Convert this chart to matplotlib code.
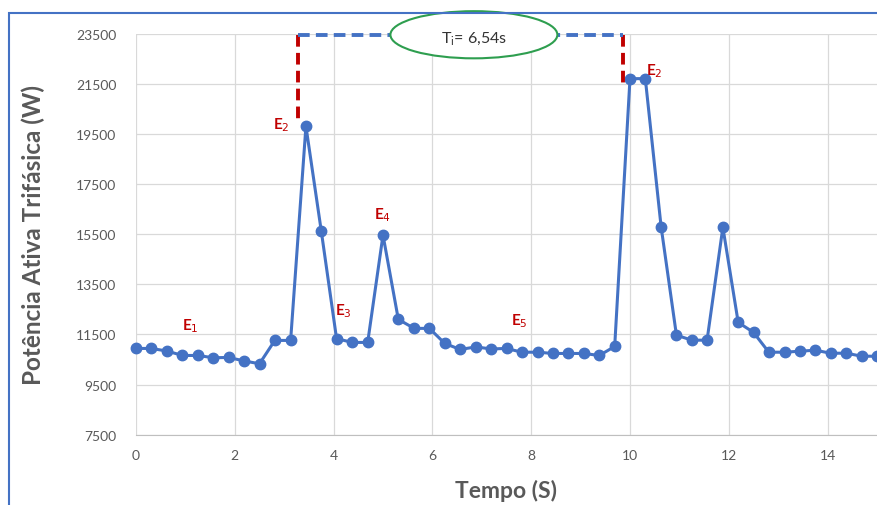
import matplotlib
matplotlib.use("Agg")
import matplotlib.pyplot as plt
from matplotlib.patches import Ellipse, Rectangle

plt.rcParams['font.family'] = ['Lato', 'DejaVu Sans']

# Data
tempo = [0.00, 0.31, 0.63, 0.94, 1.25, 1.56, 1.88, 2.19, 2.50, 2.81,
         3.13, 3.44, 3.75, 4.06, 4.38, 4.69, 5.00, 5.31, 5.63, 5.94,
         6.25, 6.56, 6.88, 7.19, 7.50, 7.81, 8.13, 8.44, 8.75, 9.06,
         9.38, 9.69, 10.00, 10.31, 10.63, 10.94, 11.25, 11.56, 11.88, 12.19,
         12.50, 12.81, 13.13, 13.44, 13.75, 14.06, 14.38, 14.69, 15.00]
potencia = [10940, 10940, 10835, 10660, 10660, 10570, 10580, 10440, 10330, 11260,
            11260, 19800, 15630, 11330, 11180, 11180, 15460, 12100, 11740, 11740,
            11140, 10900, 11000, 10920, 10940, 10790, 10790, 10740, 10740, 10740,
            10660, 11020, 21700, 21700, 15790, 11470, 11270, 11270, 15770, 11980,
            11580, 10790, 10790, 10830, 10870, 10750, 10750, 10630, 10630]

x_ticks = [0, 2, 4, 6, 8, 10, 12, 14]
y_ticks = [7500, 9500, 11500, 13500, 15500, 17500, 19500, 21500, 23500]

eventos = ["E$_1$", "E$_2$", "E$_3$", "E$_4$", "E$_5$", "E$_2$"]
eventos_x = [1.1, 2.95, 4.2, 5.0, 7.75, 10.5]
eventos_y = [11850, 19900, 12450, 16300, 12050, 22050]

t_inicio = 3.28
t_fim = 9.86
rotulo_ti = "T$_\\mathregular{i}$= 6,54s"

BLUE = "#4472C4"
GRAY = "#595959"
DARKRED = "#C00000"

fig = plt.figure(figsize=(8.77, 5.06), dpi=100)
ax = fig.add_axes([136/877, 1 - 435.7/506, 1 - 136/877, (435.7 - 34.5)/506])

ax.plot(tempo, potencia, color=BLUE, lw=2.2, marker='o', ms=7.5, zorder=3,
        clip_on=False)

ax.set_xlim(0, 15)
ax.set_ylim(7500, 23500)
ax.set_xticks(x_ticks)
ax.set_yticks(y_ticks)
ax.grid(True, color="#D9D9D9", lw=0.9)
ax.set_axisbelow(True)
for s in ['top', 'right', 'left']:
    ax.spines[s].set_visible(False)
ax.spines['bottom'].set_color("#BFBFBF")
ax.tick_params(length=0, colors=GRAY, labelsize=10, pad=10)
ax.tick_params(axis='y', pad=14)

ax.set_ylabel("Potência Ativa Trifásica (W)", fontsize=17.5, fontweight='bold',
              color=GRAY)
ax.set_xlabel("Tempo (S)", fontsize=16.5, fontweight='bold', color=GRAY)
# place labels in axes fraction coordinates
ax.yaxis.set_label_coords((33 - 136) / (877 - 136), 0.5)
ax.xaxis.set_label_coords((506 - 136) / (877 - 136), -(491 - 435.7) / (435.7 - 34.5))
ax.xaxis.label.set_va('center')
ax.yaxis.label.set_va('center')

for lab, xx, yy in zip(eventos, eventos_x, eventos_y):
    ax.text(xx, yy, lab, color=DARKRED, fontsize=11, fontweight='bold',
            ha='center', va='center')

# Ti markers
ax.plot([t_inicio, t_inicio], [23450, 20100], color=DARKRED, lw=2.8,
        ls=(0, (3, 1.6)), clip_on=False, zorder=4)
ax.plot([t_fim, t_fim], [23450, 21350], color=DARKRED, lw=2.8,
        ls=(0, (3, 1.6)), clip_on=False, zorder=4)
ax.plot([t_inicio, t_fim], [23430, 23430], color=BLUE, lw=2.8,
        ls=(0, (3, 1.6)), clip_on=False, zorder=4)
ell = Ellipse((6.84, 23450), 3.38, 1880, facecolor='white', edgecolor="#2E9E4F",
              lw=1.5, clip_on=False, zorder=5)
ax.add_patch(ell)
ax.text(6.84, 23300, rotulo_ti, fontsize=11.5, color="#333333", ha='center',
        va='center', zorder=6)

# outer chart border
fig.patches.append(Rectangle((9/877, -0.1), 1.2, 1 - 14/506 + 0.1,
                             transform=fig.transFigure, fill=False,
                             edgecolor=BLUE, lw=1.5))

fig.savefig("out.png", dpi=100)
